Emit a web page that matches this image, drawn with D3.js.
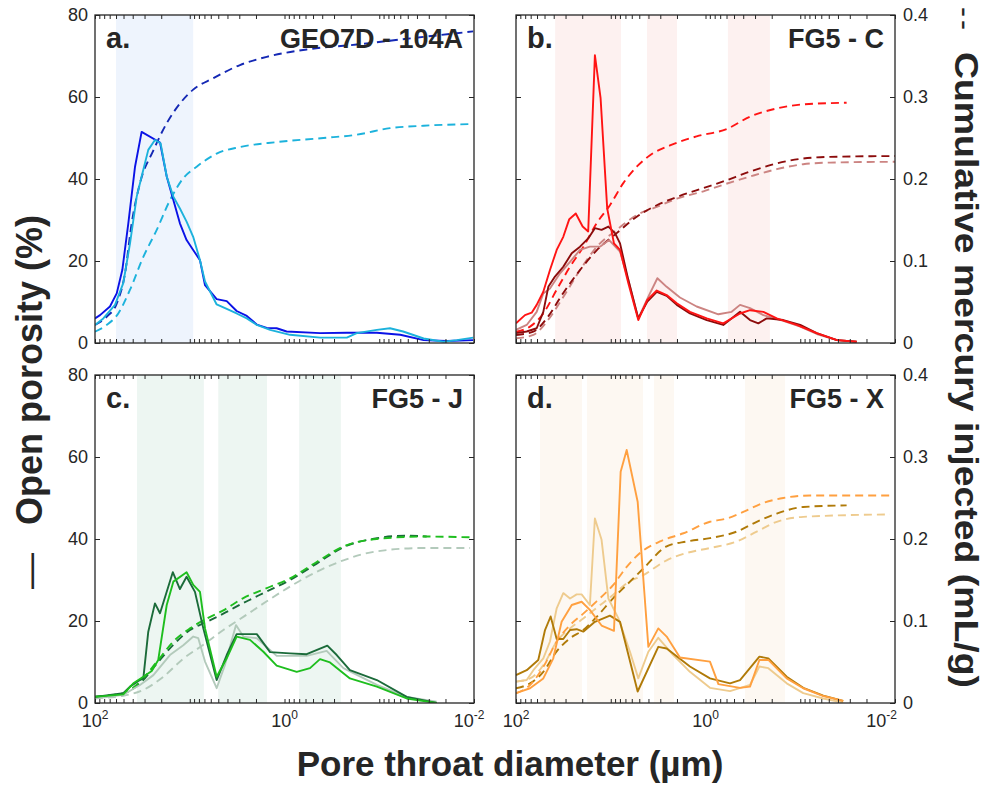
<!DOCTYPE html>
<html>
<head>
<meta charset="utf-8">
<script src="https://cdn.jsdelivr.net/npm/d3@7"></script>
<style>
  body { margin: 0; background: #fff; }
  text { font-family: "Liberation Sans", Arial, Helvetica, sans-serif; fill: #262626; }
</style>
</head>
<body>
<svg id="chart" width="987" height="785"></svg>
<script>
// ---- Data: [pore throat diameter (µm), value] ----
// Panel a: GEO7D - 104A
const aBlueSolid = [[100,6.0],[88.5,6.8],[69.5,8.9],[59,12.1],[51.5,17.8],[44.5,29.2],[37.8,43],[32.2,51.5],[20.6,48.9],[17.5,40.6],[14.9,34.9],[12.7,29.2],[10.8,25.1],[9.2,22.7],[7.8,20.2],[6.9,14.1],[5.2,10.7],[4.07,10.2],[3.2,7.8],[2.5,6.6],[1.96,4.5],[1.54,3.7],[1.21,3.6],[0.95,2.8],[0.42,2.4],[0.22,2.5],[0.106,2.5],[0.06,2.0],[0.034,0.7],[0.0194,0.5],[0.0102,0.7]];
const aCyanSolid = [[100,4.4],[81.7,6.0],[61.5,9.3],[50.3,14.6],[42.7,24.3],[36.3,35.7],[32.2,40.6],[27.4,47.1],[23.3,49.5],[20.3,48.7],[17.5,40.6],[14.9,35.7],[12.7,32.8],[10.8,29.6],[9.2,25.9],[7.8,20.2],[6.9,15.0],[5.2,9.4],[4.07,8.3],[3.2,7.2],[2.5,6.0],[1.96,4.4],[1.42,3.2],[0.875,2.0],[0.42,1.3],[0.22,1.3],[0.173,2.4],[0.106,3.2],[0.077,3.6],[0.056,2.8],[0.034,1.1],[0.021,0.3],[0.0152,0.7],[0.0102,1.3]];
const aBlueCum = [[100,0.022],[75.3,0.032],[59,0.048],[48.2,0.085],[41,0.146],[33.5,0.195],[24.2,0.235],[17.5,0.268],[12.7,0.292],[9.2,0.309],[5.64,0.323],[2.95,0.339],[1.54,0.349],[0.583,0.358],[0.173,0.364],[0.0514,0.371],[0.0102,0.380]];
const aCyanCum = [[100,0.0138],[75.3,0.022],[56.8,0.036],[42.7,0.065],[30.9,0.105],[22.3,0.138],[16.2,0.174],[11.7,0.201],[8.45,0.215],[5.2,0.231],[2.95,0.239],[1.21,0.245],[0.389,0.250],[0.173,0.254],[0.077,0.262],[0.034,0.265],[0.0102,0.267]];
const aBands = [[60, 9.2]];

// Panel b: FG5 - C
const bRedSolid = [[100,4.8],[80.4,6.8],[68.3,7.4],[60.5,9.3],[51.5,12.5],[43.8,17.8],[37.2,22.7],[31.7,25.9],[27.4,30.2],[23.4,31.6],[19.8,28.4],[17.3,27.2],[14.7,70.2],[12.8,59.7],[10.9,32.8],[9.25,24.3],[7.98,22.7],[6.53,14.6],[5.12,5.6],[4.11,10.5],[3.27,12.8],[2.57,11.7],[2.01,9.7],[1.46,7.6],[0.97,6.0],[0.649,4.8],[0.432,7.2],[0.339,8.0],[0.245,7.6],[0.177,6.0],[0.109,4.4],[0.067,2.4],[0.041,0.7],[0.0254,0.3]];
const bDarkSolid = [[100,2.4],[77.1,2.8],[60.5,3.6],[51.5,7.6],[45.6,13.7],[38.8,16.2],[31.7,18.6],[25.8,21.9],[21.1,23.5],[17.3,25.5],[14.7,28.0],[12.5,27.6],[10.6,28.4],[9.02,26.8],[7.98,24.3],[6.53,15.4],[5.12,6.0],[4.11,10.1],[3.27,12.5],[2.57,11.5],[2.01,9.3],[1.46,7.2],[0.97,5.6],[0.649,4.4],[0.432,7.6],[0.339,5.6],[0.277,4.8],[0.226,6.0],[0.151,5.6],[0.1,4.4],[0.067,2.4],[0.041,0.7],[0.0254,0.3]];
const bPinkSolid = [[100,3.2],[77.1,4.4],[60.5,7.6],[51.5,12.1],[43.8,13.3],[34.3,17.0],[26.9,19.8],[21.1,22.7],[16.6,23.5],[13.0,23.5],[10.4,25.1],[7.98,22.3],[6.53,15.4],[5.12,6.0],[4.01,11.3],[3.22,15.8],[2.57,13.7],[1.86,11.1],[1.24,8.9],[0.731,7.0],[0.53,7.6],[0.432,9.3],[0.339,8.5],[0.245,6.8],[0.151,5.4],[0.1,4.0],[0.067,2.2],[0.041,0.7],[0.0254,0.3]];
const bRedCum = [[100,0.0138],[71.1,0.020],[51.5,0.036],[37.2,0.065],[26.9,0.093],[19.5,0.117],[14.1,0.146],[10.2,0.168],[7.37,0.195],[5.32,0.215],[3.85,0.229],[2.37,0.241],[1.24,0.252],[0.597,0.261],[0.339,0.276],[0.177,0.286],[0.093,0.291],[0.0324,0.293]];
const bDarkCum = [[100,0.0098],[65.6,0.0138],[47.4,0.030],[31.7,0.061],[21.1,0.089],[14.1,0.113],[8.65,0.134],[5.32,0.154],[3.27,0.168],[2.01,0.178],[1.05,0.189],[0.649,0.197],[0.339,0.209],[0.177,0.219],[0.093,0.225],[0.0485,0.227],[0.01,0.228]];
const bPinkCum = [[100,0.0057],[65.6,0.0098],[47.4,0.026],[31.7,0.056],[21.1,0.089],[14.1,0.117],[8.65,0.138],[5.32,0.156],[3.27,0.166],[2.01,0.176],[1.05,0.185],[0.649,0.193],[0.339,0.203],[0.177,0.212],[0.093,0.218],[0.0485,0.220],[0.01,0.221]];
const bBands = [[38.6, 7.8], [4.14, 2.0], [0.58, 0.209]];

// Panel c: FG5 - J
const cDarkSolid = [[100,1.5],[50.3,2.4],[42.7,4.0],[34.9,5.4],[30.9,6.0],[27.4,17.4],[23.3,24.3],[20.6,21.9],[15.1,31.9],[12.7,27.8],[10.8,30.8],[8.81,27.1],[7.19,18.2],[5.2,5.6],[4.07,11.7],[3.2,16.8],[1.96,16.8],[1.42,12.4],[0.875,12.1],[0.583,11.9],[0.353,14.0],[0.281,11.7],[0.204,8.0],[0.106,5.6],[0.0513,1.5],[0.0248,0]];
const cGreenSolid = [[100,1.5],[50.3,2.1],[39.4,4.8],[30.9,6.4],[25.2,7.8],[21.5,10.5],[17.5,23.9],[14.9,29.6],[10.8,31.9],[9.18,28.8],[7.8,27.1],[6.9,18.2],[5.2,6.4],[4.07,10.9],[3.2,16.2],[2.31,15.4],[1.67,12.5],[1.21,9.1],[0.743,7.6],[0.538,8.5],[0.422,10.7],[0.331,9.9],[0.204,6.0],[0.106,4.0],[0.0513,1.1],[0.0248,0]];
const cGraySolid = [[100,1.1],[50.3,2.0],[33.5,4.4],[24.2,6.8],[16.2,11.7],[11.7,14.1],[9.18,16.2],[8.13,15.8],[6.9,10.1],[5.2,3.6],[4.25,9.3],[3.25,19.0],[2.72,16.2],[1.96,15.8],[1.21,11.5],[0.583,11.5],[0.359,12.7],[0.239,8.5],[0.106,4.4],[0.0513,1.5],[0.0248,0.3]];
const cGreenCum = [[100,0.0077],[50.3,0.0118],[33.5,0.026],[22.3,0.050],[14.9,0.075],[9.94,0.091],[6.62,0.103],[4.42,0.113],[2.72,0.128],[1.54,0.140],[0.875,0.152],[0.457,0.172],[0.239,0.191],[0.106,0.200],[0.0343,0.203],[0.0106,0.202]];
const cDarkCum = [[100,0.0077],[50.3,0.0118],[33.5,0.024],[22.3,0.048],[14.9,0.071],[9.94,0.089],[6.62,0.099],[4.42,0.109],[2.72,0.122],[1.54,0.136],[0.875,0.150],[0.457,0.170],[0.239,0.190],[0.106,0.201],[0.0513,0.204],[0.0316,0.203]];
const cGrayCum = [[100,0.0057],[50.3,0.0089],[30.9,0.016],[19.0,0.032],[11.7,0.054],[7.19,0.071],[4.42,0.089],[2.72,0.105],[1.54,0.124],[0.875,0.142],[0.457,0.160],[0.239,0.174],[0.106,0.185],[0.0343,0.189],[0.011,0.189]];
const cBands = [[36, 7.1], [5.0, 1.53], [0.70, 0.254]];

// Panel d: FG5 - X
const dOrangeSolid = [[100,2.4],[71.1,3.6],[51.5,6.0],[40.4,10.9],[33.0,19.8],[25.8,23.9],[20.3,24.7],[16.6,22.7],[12.5,18.9],[9.25,17.6],[7.86,56.4],[6.79,61.7],[5.2,49.1],[4.01,13.7],[3.15,18.2],[2.57,16.2],[1.86,11.1],[0.897,10.1],[0.731,4.6],[0.432,3.7],[0.339,4.0],[0.27,10.5],[0.217,10.5],[0.139,6.0],[0.093,3.6],[0.0571,1.7],[0.0352,0.5]];
const dGoldSolid = [[100,6.8],[77.1,8.0],[58.2,10.5],[49.4,17.8],[43.1,21.1],[37.2,15.6],[31.7,15.6],[26.9,17.8],[22.9,18.0],[19.5,17.4],[14.7,19.8],[10.2,21.3],[7.98,19.8],[5.2,2.8],[3.15,13.7],[2.57,13.3],[1.46,8.9],[0.897,6.0],[0.551,4.8],[0.432,5.6],[0.27,11.3],[0.217,10.9],[0.139,6.4],[0.093,3.7],[0.0571,1.8],[0.0352,0.5]];
const dTanSolid = [[100,5.2],[77.1,5.6],[65.6,8.0],[51.5,10.9],[43.8,15.0],[37.2,23.1],[31.7,26.8],[26.9,25.5],[22.9,26.5],[20.3,26.5],[16.6,23.9],[14.7,45.0],[12.5,39.8],[10.6,25.5],[8.32,20.7],[6.27,12.5],[5.12,6.0],[4.01,12.5],[3.15,15.9],[2.19,11.7],[1.46,7.6],[0.897,3.7],[0.551,2.9],[0.339,4.4],[0.27,8.9],[0.217,8.5],[0.139,4.8],[0.093,2.4],[0.0571,1.1],[0.0352,0.1]];
const dOrangeCum = [[100,0.0118],[71.1,0.022],[51.5,0.044],[37.2,0.075],[26.9,0.095],[19.5,0.109],[14.1,0.124],[9.4,0.144],[6.79,0.166],[4.91,0.183],[3.02,0.197],[1.71,0.207],[0.897,0.221],[0.597,0.225],[0.399,0.233],[0.245,0.244],[0.151,0.250],[0.0789,0.253],[0.0113,0.253]];
const dGoldCum = [[100,0.018],[71.1,0.024],[51.5,0.038],[37.2,0.063],[26.9,0.079],[19.5,0.089],[14.1,0.105],[9.4,0.128],[6.79,0.144],[4.53,0.164],[2.57,0.191],[1.58,0.197],[0.897,0.201],[0.469,0.209],[0.288,0.221],[0.177,0.231],[0.093,0.239],[0.0324,0.241]];
const dTanCum = [[100,0.026],[71.1,0.030],[51.5,0.046],[37.2,0.075],[26.9,0.091],[19.5,0.103],[14.1,0.116],[9.4,0.132],[6.79,0.146],[4.53,0.156],[2.57,0.174],[1.58,0.183],[0.897,0.189],[0.469,0.197],[0.288,0.209],[0.177,0.221],[0.093,0.227],[0.0113,0.230]];
const dBands = [[55.8, 20.1], [17.8, 4.57], [3.5, 2.15], [0.383, 0.145]];

// Axis ticks and labels
const porosityTicks = [0, 20, 40, 60, 80];
const mercuryTicks = [0, 0.1, 0.2, 0.3, 0.4];
const diameterLabels = [[100, "2"], [1, "0"], [0.01, "-2"]];
const panelLetters = ["a.", "b.", "c.", "d."];
const panelTitles = ["GEO7D - 104A", "FG5 - C", "FG5 - J", "FG5 - X"];

// ---- Layout ----
const PW = 379, PH = 328;
const panels = [
  { left: 95,  top: 15,  bands: aBands, band: "#eef4fd",
    solid: [[aBlueSolid, "#0a12e6"], [aCyanSolid, "#1cb2dc"]],
    dashed: [[aCyanCum, "#1cb2dc"], [aBlueCum, "#1428b4"]] },
  { left: 516, top: 15,  bands: bBands, band: "#fdf1f0",
    solid: [[bPinkSolid, "#cc8482"], [bDarkSolid, "#8c0c0c"], [bRedSolid, "#ff1414"]],
    dashed: [[bPinkCum, "#cc8482"], [bDarkCum, "#8c0c0c"], [bRedCum, "#ff1414"]] },
  { left: 95,  top: 375, bands: cBands, band: "#edf6f2",
    solid: [[cGraySolid, "#b3cabb"], [cDarkSolid, "#1b6b3a"], [cGreenSolid, "#1ebe1e"]],
    dashed: [[cGrayCum, "#b3cabb"], [cDarkCum, "#1b6b3a"], [cGreenCum, "#1ebe1e"]] },
  { left: 516, top: 375, bands: dBands, band: "#fdf8f2",
    solid: [[dTanSolid, "#eecb8e"], [dGoldSolid, "#b07a08"], [dOrangeSolid, "#ffa040"]],
    dashed: [[dTanCum, "#eecb8e"], [dGoldCum, "#b07a08"], [dOrangeCum, "#ffa040"]] }
];

const svg = d3.select("#chart");
const x = d3.scaleLog().domain([100, 0.01]).range([0, PW]);
const yL = d3.scaleLinear().domain([0, 80]).range([PH, 0]);
const yR = d3.scaleLinear().domain([0, 0.4]).range([PH, 0]);
const logTicks = x.ticks();

const solidLine = d3.line().x(d => x(d[0])).y(d => yL(d[1]));
const cumLine = d3.line().x(d => x(d[0])).y(d => yR(d[1])).curve(d3.curveMonotoneX);

panels.forEach((p, i) => {
  const g = svg.append("g").attr("transform", `translate(${p.left},${p.top})`);
  const clipId = "clip" + i;
  g.append("clipPath").attr("id", clipId)
    .append("rect").attr("width", PW).attr("height", PH);

  // shaded pore-size bands
  g.append("g").selectAll("rect").data(p.bands).join("rect")
    .attr("x", d => x(d[0])).attr("width", d => x(d[1]) - x(d[0]))
    .attr("y", 0).attr("height", PH).attr("fill", p.band);

  const plot = g.append("g").attr("clip-path", `url(#${clipId})`);
  p.dashed.forEach(([data, color]) => {
    plot.append("path").datum(data).attr("d", cumLine)
      .attr("fill", "none").attr("stroke", color).attr("stroke-width", 1.9)
      .attr("stroke-dasharray", "8,5");
  });
  p.solid.forEach(([data, color]) => {
    plot.append("path").datum(data).attr("d", solidLine)
      .attr("fill", "none").attr("stroke", color).attr("stroke-width", 1.9)
      .attr("stroke-linejoin", "round");
  });

  // inward ticks on all four sides
  const tickStyle = sel => { sel.select(".domain").remove(); sel.selectAll("line").attr("stroke", "#262626").attr("stroke-width", 1); };
  g.append("g").attr("transform", `translate(0,${PH})`)
    .call(d3.axisBottom(x).tickValues(logTicks).tickSize(-4).tickFormat("")).call(tickStyle);
  g.append("g")
    .call(d3.axisTop(x).tickValues(logTicks).tickSize(-4).tickFormat("")).call(tickStyle);
  g.append("g")
    .call(d3.axisLeft(yL).tickValues(porosityTicks).tickSize(-5).tickFormat("")).call(tickStyle);
  g.append("g").attr("transform", `translate(${PW},0)`)
    .call(d3.axisRight(yL).tickValues(porosityTicks).tickSize(-5).tickFormat("")).call(tickStyle);

  g.append("rect").attr("width", PW).attr("height", PH)
    .attr("fill", "none").attr("stroke", "#262626").attr("stroke-width", 1.3);

  // tick labels
  if (i % 2 === 0) {
    g.append("g").call(d3.axisLeft(yL).tickValues(porosityTicks).tickSize(0).tickPadding(7))
      .call(s => s.select(".domain").remove())
      .selectAll("text").attr("font-size", 18).attr("fill", "#262626").style("font-family", null);
  } else {
    g.append("g").attr("transform", `translate(${PW},0)`)
      .call(d3.axisRight(yR).tickValues(mercuryTicks).tickSize(0).tickPadding(8)
        .tickFormat(d => d === 0 ? "0" : d3.format(".1f")(d)))
      .call(s => s.select(".domain").remove())
      .selectAll("text").attr("font-size", 18).attr("fill", "#262626").style("font-family", null);
  }
  if (i >= 2) {
    diameterLabels.forEach(([v, exp]) => {
      const last = v === 0.01;
      // the rightmost label is pulled inside so it clears the neighbouring axis labels
      const anchor = last && i === 3 ? "end" : "middle";
      const xPos = last ? (i === 3 ? x(v) + 2 : x(v) - 5) : x(v);
      const t = g.append("text").attr("x", xPos).attr("y", PH + 24)
        .attr("text-anchor", anchor).attr("font-size", 18);
      t.append("tspan").text("10");
      t.append("tspan").attr("dy", -8).attr("font-size", 12).text(exp);
    });
  }

  g.append("text").attr("x", 11).attr("y", 33)
    .attr("font-size", 29).attr("font-weight", "bold").text(panelLetters[i]);
  g.append("text").attr("x", PW - 11).attr("y", 33).attr("text-anchor", "end")
    .attr("font-size", 27).attr("font-weight", "bold").text(panelTitles[i]);
});

// axis titles
svg.append("text").attr("x", 510).attr("y", 776).attr("text-anchor", "middle")
  .attr("font-size", 35).attr("font-weight", "bold").text("Pore throat diameter (µm)");

const left = svg.append("text").attr("transform", "translate(42,402) rotate(-90)")
  .attr("text-anchor", "middle").attr("font-size", 36);
left.append("tspan").attr("font-weight", "normal").text("—");
left.append("tspan").attr("dx", 28).attr("font-weight", "bold").text("Open porosity (%)");

svg.append("text").attr("transform", "translate(955,20) rotate(90)")
  .attr("text-anchor", "middle").attr("font-size", 30).attr("letter-spacing", 3).text("--");
svg.append("text").attr("transform", "translate(955,370) rotate(90)")
  .attr("text-anchor", "middle").attr("font-size", 33).attr("font-weight", "bold")
  .style("font-family", "'Liberation Sans Narrow', 'Arial Narrow', 'Liberation Sans', sans-serif")
  .attr("textLength", 636).attr("lengthAdjust", "spacingAndGlyphs")
  .text("Cumulative mercury injected (mL/g)");
</script>
</body>
</html>
